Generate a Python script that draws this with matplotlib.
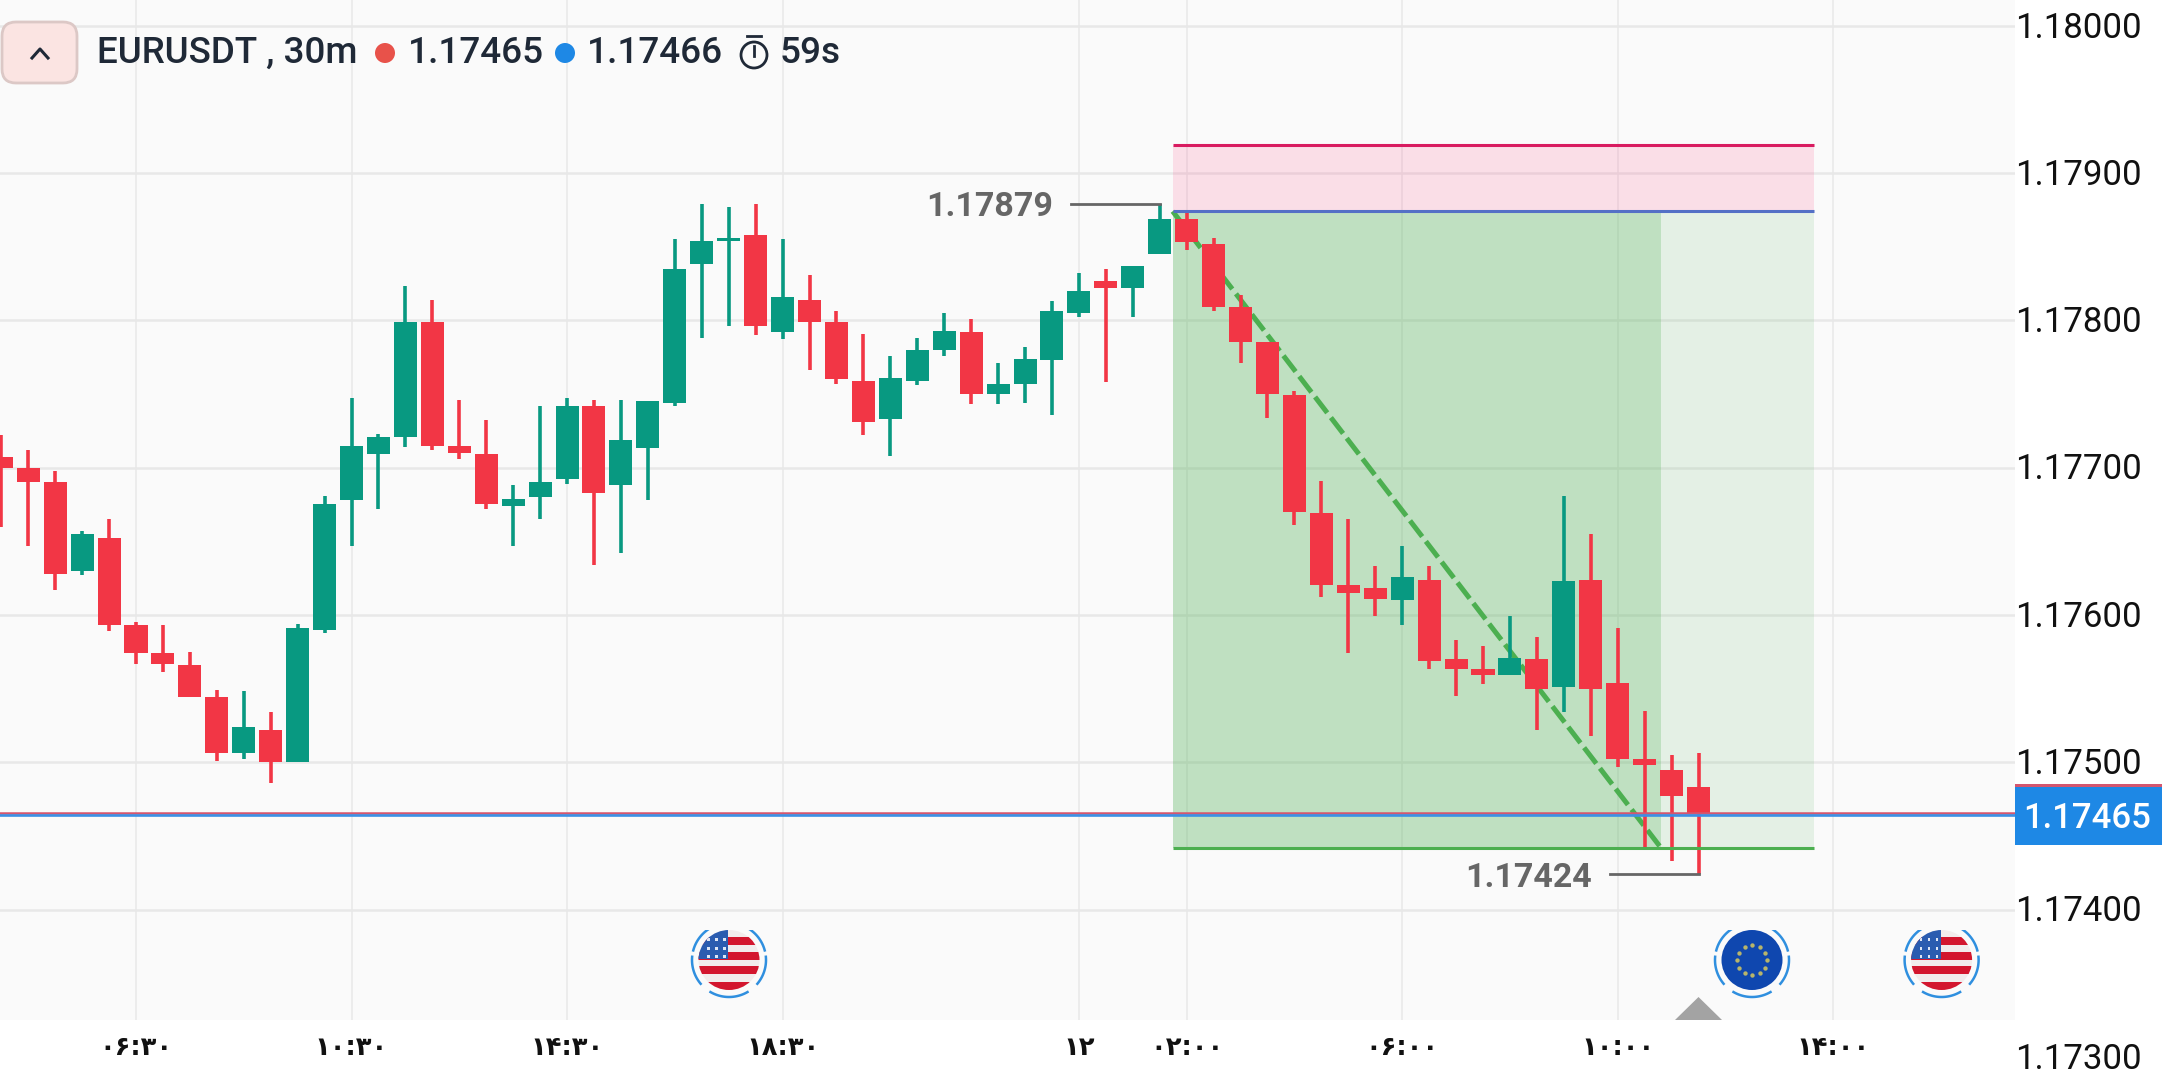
import numpy as np
import matplotlib
matplotlib.use('Agg')
import matplotlib.pyplot as plt
import matplotlib.patches as patches

# candles, 30m each, first one is index -5 (06:30 = index 0)
first_index = -5
opens = [1.17707, 1.17700, 1.17690, 1.17630, 1.17652, 1.17593, 1.17574, 1.17566, 1.17544, 1.17506,
         1.17522, 1.17500, 1.17590, 1.17678, 1.17709, 1.17721, 1.17799, 1.17715, 1.17709, 1.17674,
         1.17680, 1.17692, 1.17742, 1.17688, 1.17713, 1.17744, 1.17838, 1.17854, 1.17858, 1.17792,
         1.17814, 1.17799, 1.17759, 1.17733, 1.17759, 1.17780, 1.17792, 1.17750, 1.17757, 1.17773,
         1.17805, 1.17827, 1.17822, 1.17845, 1.17869, 1.17852, 1.17809, 1.17785, 1.17749, 1.17669,
         1.17620, 1.17618, 1.17610, 1.17624, 1.17570, 1.17563, 1.17559, 1.17570, 1.17551, 1.17624,
         1.17554, 1.17502, 1.17495, 1.17483]
closes = [1.17700, 1.17690, 1.17628, 1.17655, 1.17593, 1.17574, 1.17567, 1.17544, 1.17506, 1.17524,
          1.17500, 1.17591, 1.17675, 1.17715, 1.17721, 1.17799, 1.17715, 1.17710, 1.17675, 1.17679,
          1.17690, 1.17742, 1.17683, 1.17719, 1.17745, 1.17835, 1.17854, 1.17856, 1.17796, 1.17816,
          1.17799, 1.17760, 1.17731, 1.17761, 1.17780, 1.17793, 1.17750, 1.17757, 1.17774, 1.17806,
          1.17820, 1.17822, 1.17837, 1.17869, 1.17853, 1.17809, 1.17785, 1.17750, 1.17670, 1.17620,
          1.17615, 1.17611, 1.17626, 1.17569, 1.17563, 1.17559, 1.17571, 1.17550, 1.17623, 1.17550,
          1.17502, 1.17498, 1.17477, 1.17465]
highs = [1.17722, 1.17712, 1.17698, 1.17657, 1.17665, 1.17595, 1.17593, 1.17575, 1.17549, 1.17548,
         1.17534, 1.17594, 1.17681, 1.17747, 1.17723, 1.17823, 1.17814, 1.17746, 1.17732, 1.17688,
         1.17742, 1.17747, 1.17746, 1.17746, 1.17745, 1.17855, 1.17879, 1.17877, 1.17879, 1.17855,
         1.17831, 1.17806, 1.17791, 1.17776, 1.17788, 1.17805, 1.17801, 1.17771, 1.17782, 1.17813,
         1.17832, 1.17835, 1.17837, 1.17879, 1.17875, 1.17856, 1.17817, 1.17785, 1.17752, 1.17691,
         1.17665, 1.17633, 1.17647, 1.17633, 1.17583, 1.17579, 1.17599, 1.17585, 1.17681, 1.17655,
         1.17591, 1.17535, 1.17505, 1.17506]
lows = [1.17660, 1.17647, 1.17617, 1.17627, 1.17589, 1.17567, 1.17561, 1.17544, 1.17501, 1.17502,
        1.17486, 1.17500, 1.17588, 1.17647, 1.17672, 1.17714, 1.17712, 1.17706, 1.17672, 1.17647,
        1.17665, 1.17689, 1.17634, 1.17642, 1.17678, 1.17742, 1.17788, 1.17796, 1.17790, 1.17787,
        1.17766, 1.17757, 1.17722, 1.17708, 1.17756, 1.17776, 1.17743, 1.17743, 1.17744, 1.17736,
        1.17802, 1.17758, 1.17802, 1.17845, 1.17848, 1.17806, 1.17771, 1.17734, 1.17661, 1.17612,
        1.17574, 1.17599, 1.17593, 1.17563, 1.17545, 1.17553, 1.17559, 1.17522, 1.17534, 1.17518,
        1.17497, 1.17441, 1.17433, 1.17424]

price_ticks = [1.18, 1.179, 1.178, 1.177, 1.176, 1.175, 1.174, 1.173]
time_ticks = [0, 8, 16, 24, 35, 39, 47, 55, 63]
time_labels = ['۰۶:۳۰', '۱۰:۳۰', '۱۴:۳۰', '۱۸:۳۰', '۱۲', '۰۲:۰۰', '۰۶:۰۰', '۱۰:۰۰', '۱۴:۰۰']

# long position drawing
stop_price = 1.17919
entry_price = 1.17874
target_price = 1.17442
tool_start, tool_mid, tool_end = 38.48, 56.6, 62.29

last_red = 1.174652
last_blue = 1.17464
high_mark = (38, 1.17879)
low_mark = (58, 1.17424)

GREEN = '#089981'
RED = '#F23645'
W, H = 2162, 1080
PLOT_R, PLOT_B = 2015, 1020

fig = plt.figure(figsize=(W / 100, H / 100), dpi=100, facecolor='white')
ax = fig.add_axes([0, 1 - PLOT_B / H, PLOT_R / W, PLOT_B / H], facecolor='#FAFAFA')

# one candle = 26.94 px, 0.001 = 147.3 px
ax.set_xlim(-136 / 26.94, (PLOT_R - 136) / 26.94)
ax.set_ylim(1.18 - (PLOT_B - 25.7) / 147300, 1.18 + 25.7 / 147300)
for s in ax.spines.values():
    s.set_visible(False)

ax.set_xticks(time_ticks)
ax.set_xticklabels(time_labels, family='DejaVu Sans', weight='bold', fontsize=18.5, color='#111111')
ax.tick_params(axis='x', length=0, pad=11)
ax.set_yticks(price_ticks[:-1])
ax.tick_params(axis='y', length=0, labelleft=False)
ax.grid(axis='x', color='#ECECEC', lw=1.4, zorder=0)
ax.grid(axis='y', color='#E8E8E8', lw=1.8, zorder=0)
ax.set_axisbelow(True)

for p in price_ticks:
    ax.text((PLOT_R - 136) / 26.94 + 0.02, p + 0.000008, '%.5f' % p, family='Roboto', fontsize=25,
            color='#111111', va='center_baseline', ha='left', clip_on=False)

# position tool
ax.fill_between([tool_start, tool_end], entry_price, stop_price, color='#FF4081', alpha=0.15, lw=0, zorder=1)
ax.fill_between([tool_start, tool_end], target_price, entry_price, color='#4CAF50', alpha=0.12, lw=0, zorder=1)
ax.fill_between([tool_start, tool_mid], target_price, entry_price, color='#4CAF50', alpha=0.24, lw=0, zorder=1)
ax.plot([tool_start, tool_mid], [entry_price, target_price], color='#4CAF50', lw=3.6,
        dashes=(4.0, 1.2), zorder=2)

# candles
x = np.arange(len(opens)) + first_index
o = np.array(opens)
c = np.array(closes)
colors = [GREEN if b >= a else RED for a, b in zip(opens, closes)]
ax.vlines(x, lows, highs, colors=colors, lw=2.6, zorder=3)
ax.bar(x, np.maximum(np.abs(c - o), 0.00002), bottom=np.minimum(o, c), width=0.855, color=colors, lw=0, zorder=3)

ax.plot([tool_start, tool_end], [stop_price] * 2, color='#D81B60', lw=2.2, zorder=4, solid_capstyle='butt')
ax.plot([tool_start, tool_end], [entry_price] * 2, color='#5470C6', lw=2.2, zorder=4, solid_capstyle='butt')
ax.plot([tool_start, tool_end], [target_price] * 2, color='#4CAF50', lw=2.2, zorder=4, solid_capstyle='butt')

ax.axhline(last_red, color='#D4566F', lw=1.8, zorder=5)
ax.axhline(last_blue, color='#3B90E5', lw=1.9, zorder=5)

# high / low labels
ax.plot([high_mark[0] - 3.3, high_mark[0]], [high_mark[1]] * 2, color='#666666', lw=2.0, zorder=4)
ax.plot([low_mark[0] - 3.3, low_mark[0]], [low_mark[1]] * 2, color='#666666', lw=2.0, zorder=4)
ax.text(high_mark[0] - 3.95, high_mark[1], '%.5f' % high_mark[1], family='Roboto', weight='bold', fontsize=24.5,
        color='#666666', ha='right', va='center_baseline', zorder=6)
ax.text(low_mark[0] - 3.95, low_mark[1], '%.5f' % low_mark[1], family='Roboto', weight='bold', fontsize=24.5,
        color='#666666', ha='right', va='center_baseline', zorder=6)

# overlay in pixels for the chrome: header, flags, price tag
ov = fig.add_axes([0, 0, 1, 1], facecolor='none')
ov.set_xlim(0, W)
ov.set_ylim(H, 0)
ov.axis('off')

ov.add_patch(patches.Rectangle((PLOT_R, 784), W - PLOT_R, 4, color='#D4566F', lw=0))
ov.add_patch(patches.Rectangle((PLOT_R, 787), W - PLOT_R, 58, color='#1E88E5', lw=0))
ov.text(2087, 815, '%.5f' % 1.17465, family='Roboto', weight='medium', fontsize=25, color='white',
        ha='center', va='center_baseline')

# header
ov.add_patch(patches.FancyBboxPatch((12, 32), 55, 41, boxstyle='round,pad=10,rounding_size=14',
                                    fc='#FBE4E2', ec='#DCC8C6', lw=2))
ov.plot([32, 40, 48], [58, 49, 58], color='#1F2937', lw=2.2)
hdr = dict(family='Roboto', weight='medium', fontsize=26.6, color='#1F2937', va='baseline', ha='left')
ov.text(97, 63, 'EURUSDT , 30m', **hdr)
ov.add_patch(patches.Circle((385, 53), 10, color='#E8524A', lw=0))
ov.text(408, 63, '1.17465', **hdr)
ov.add_patch(patches.Circle((565, 53), 10, color='#1E88E5', lw=0))
ov.text(587, 63, '1.17466', **hdr)
ov.add_patch(patches.Circle((754, 55), 13, fc='none', ec='#1F2937', lw=2))
ov.plot([747, 761], [36, 36], color='#1F2937', lw=2)
ov.plot([754, 754], [46, 56], color='#1F2937', lw=2)
ov.text(780, 63, '59s', **hdr)


# flags
def ring(cx, cy):
    clip = patches.Rectangle((cx - 50, 930), 100, 80, transform=ov.transData)
    for a, b in [(60, 120), (-5, 40), (140, 185), (-60, -15), (195, 240)]:
        t = np.radians(np.linspace(a, b, 30))
        line, = ov.plot(cx + 37 * np.cos(t), cy + 37 * np.sin(t), color='#2F8FDF', lw=1.8)
        line.set_clip_path(clip)


def us_flag(cx, cy):
    ring(cx, cy)
    disc = patches.Ellipse((cx, cy), 61, 60, transform=ov.transData)
    base = patches.Rectangle((cx - 50, 930), 100, 80, fc='#F2ECEC', lw=0)
    ov.add_patch(base)
    base.set_clip_path(disc)
    for top in [937, 952, 966, 982]:
        r = patches.Rectangle((cx - 32, top), 64, 8, color='#D3162E', lw=0)
        ov.add_patch(r)
        r.set_clip_path(disc)
    r = patches.Rectangle((cx - 32, 928), 31, 31, color='#2A5CB0', lw=0)
    ov.add_patch(r)
    r.set_clip_path(disc)
    for dx in [-22, -14, -6]:
        for dy in [-22, -13, -5]:
            d = patches.Rectangle((cx + dx, cy + dy), 2.5, 3, color='#DDE6F5', lw=0)
            ov.add_patch(d)
            d.set_clip_path(disc)


def eu_flag(cx, cy):
    ring(cx, cy)
    e = patches.Ellipse((cx, cy), 61, 60, color='#0F47AF', lw=0)
    ov.add_patch(e)
    e.set_clip_path(patches.Rectangle((cx - 50, 930), 100, 80, transform=ov.transData))
    t = np.radians(np.arange(0, 360, 30))
    ov.scatter(cx + 15 * np.cos(t), cy + 15 * np.sin(t), s=10, color='#B8B56A', lw=0, zorder=3)


us_flag(729, 960)
eu_flag(1752, 960)
us_flag(1941.6, 960)

ov.add_patch(patches.Polygon([(1675, 1020), (1722, 1020), (1698.5, 997)], color='#A3A3A3', lw=0))

fig.savefig('out.png', dpi=100, facecolor='white')
